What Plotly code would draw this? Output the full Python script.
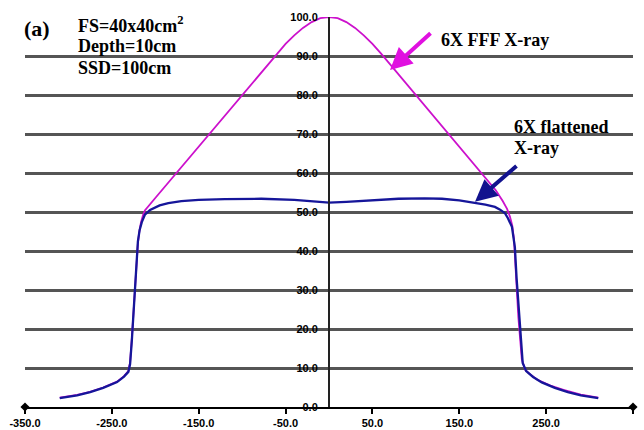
import plotly.graph_objects as go

# ---- data ----
fff_x = [-310, -290, -275, -260, -244, -236, -231, -229, -227, -225, -223, -221.5, -220,
         -218.5, -216.5, -214, -212, -200, -180, -160, -140, -120, -100, -80, -60, -50, -40,
         -30, -20, -10, 0, 10, 20, 30, 40, 50, 60, 80, 100, 120, 140, 160, 180, 192, 200,
         205, 208.4, 211, 213, 214.5, 216, 218, 220, 222, 226, 232, 240, 255, 270, 290, 310]
fff_y = [2.4, 3.1, 3.9, 5.0, 6.5, 7.9, 9.2, 11.5, 17.5, 24.5, 32.0, 38.5, 42.0,
         44.8, 47.3, 49.3, 50.4, 53.6, 58.9, 64.2, 69.5, 74.7, 80.0, 85.3, 90.6, 93.1, 95.3,
         97.2, 98.7, 99.7, 100.0, 99.7, 98.7, 97.2, 95.3, 93.1, 90.6, 85.3, 80.0, 74.7, 69.5, 64.2, 58.9, 55.6, 52.8,
         50.8, 48.8, 46.5, 43.0, 38.0, 31.0, 23.0, 16.5, 12.2, 9.5, 8.3, 7.0, 5.5, 4.4, 3.2, 2.4]

flat_x = [-310, -290, -275, -260, -244, -236, -231, -229, -227, -225, -223, -221.5, -220,
          -218, -215.5, -212, -206, -195, -185, -170, -150, -120, -78, -40, -20, 0, 20, 50,
          80, 110, 130, 150, 168, 180, 191, 197, 202.6, 206, 210.6, 213, 214, 216, 217.5, 219.8,
          221.5, 223, 227, 235, 245, 260, 275, 290, 310]
flat_y = [2.3, 3.0, 3.8, 4.9, 6.4, 7.8, 9.0, 11.0, 17.0, 24.0, 31.5, 38.0, 42.5,
          45.4, 47.4, 49.3, 50.5, 51.7, 52.3, 52.8, 53.1, 53.3, 53.4, 53.1, 52.7, 52.4, 52.6, 53.0,
          53.4, 53.5, 53.4, 53.0, 52.4, 51.9, 51.3, 50.6, 49.7, 48.4, 46.2, 43.0, 41.0, 33.0, 28.2, 19.7,
          14.5, 11.3, 9.2, 7.7, 6.3, 4.9, 3.8, 3.0, 2.3]

x_ticks = [-350, -250, -150, -50, 50, 150, 250, 350]
x_tick_labels = ["-350.0", "-250.0", "-150.0", "-50.0", "50.0", "150.0", "250.0", "350.0"]
y_ticks = [0, 10, 20, 30, 40, 50, 60, 70, 80, 90, 100]
y_tick_labels = ["0.0", "10.0", "20.0", "30.0", "40.0", "50.0", "60.0", "70.0", "80.0", "90.0", "100.0"]
axis_end_x = [-350, 350]
axis_end_y = [0, 0]

SERIF = "Liberation Serif, Times New Roman, serif"
SANS = "Liberation Sans, Arial, sans-serif"

fig = go.Figure()
fig.add_trace(go.Scatter(x=fff_x, y=fff_y, mode="lines", line=dict(color="#CC11CC", width=1.8),
                         hoverinfo="skip", showlegend=False))
fig.add_trace(go.Scatter(x=flat_x, y=flat_y, mode="lines", line=dict(color="#16169A", width=2.3),
                         hoverinfo="skip", showlegend=False))
fig.add_trace(go.Scatter(x=axis_end_x, y=axis_end_y, mode="markers",
                         marker=dict(symbol="diamond", size=7, color="black"),
                         cliponaxis=False, hoverinfo="skip", showlegend=False))

W, H = 644, 430
L, R, T, B = 25, 11, 17, 23
pw, ph = W - L - R, H - T - B

def px(xp):
    return (xp - L) / pw

def py(yp):
    return (H - B - yp) / ph

# white boxes that hide gridlines behind the labels
for (x0, x1, y0, y1) in [(0, 240, 0, 78), (418, 582, 24, 62), (501, 644, 105, 186)]:
    fig.add_shape(type="rect", xref="paper", yref="paper",
                  x0=px(x0), x1=px(x1), y0=py(y1), y1=py(y0),
                  fillcolor="white", line=dict(width=0), layer="between")

ann = []
ann.append(dict(text="<b>(a)</b>", x=px(22), y=py(28), xanchor="left", yanchor="middle",
                font=dict(family=SERIF, size=22, color="black")))
for t, yy in [("<b>FS=40x40cm<sup>2</sup></b>", 24), ("<b>Depth=10cm</b>", 46), ("<b>SSD=100cm</b>", 67.5)]:
    ann.append(dict(text=t, x=px(76), y=py(yy), xanchor="left", yanchor="middle",
                    font=dict(family=SERIF, size=18, color="black")))
ann.append(dict(text="<b>6X FFF X-ray</b>", x=px(439), y=py(40), xanchor="left", yanchor="middle",
                font=dict(family=SERIF, size=18, color="black")))
ann.append(dict(text="<b>6X flattened</b>", x=px(512), y=py(126.5), xanchor="left", yanchor="middle",
                font=dict(family=SERIF, size=18, color="black")))
ann.append(dict(text="<b>X-ray</b>", x=px(512), y=py(148), xanchor="left", yanchor="middle",
                font=dict(family=SERIF, size=18, color="black")))
for a in ann:
    a.update(xref="paper", yref="paper", showarrow=False)

# arrows
ann.append(dict(x=70.2, y=86.4, ax=118.6, ay=96.2, xref="x", yref="y", axref="x", ayref="y",
                showarrow=True, arrowhead=2, arrowsize=1.1, arrowwidth=4, arrowcolor="#E010E0",
                standoff=0, text=""))
ann.append(dict(x=168.1, y=52.6, ax=217.6, ay=62.1, xref="x", yref="y", axref="x", ayref="y",
                showarrow=True, arrowhead=2, arrowsize=1.1, arrowwidth=4, arrowcolor="#12128E",
                standoff=0, text=""))

fig.update_layout(
    width=W, height=H, margin=dict(l=L, r=R, t=T, b=B, autoexpand=False),
    paper_bgcolor="white", plot_bgcolor="white",
    annotations=ann,
    xaxis=dict(range=[-350, 350], tickvals=x_ticks, ticktext=x_tick_labels,
               showgrid=False, zeroline=False, showline=True, linecolor="black", linewidth=2,
               ticks="outside", ticklen=5, tickwidth=1.5, tickcolor="black",
               tickfont=dict(family=SANS, size=11, color="black", weight="bold"),
               automargin=False, fixedrange=True),
    yaxis=dict(range=[0, 100], tickvals=y_ticks, ticktext=y_tick_labels,
               anchor="free", position=0.5, side="left",
               showgrid=True, gridcolor="#555555", gridwidth=2.5, zeroline=False,
               showline=True, linecolor="#222222", linewidth=2, ticks="",
               ticklabelstandoff=8,
               tickfont=dict(family=SANS, size=11, color="black", weight="bold"),
               automargin=False, fixedrange=True),
)

fig.write_html("out.html")
